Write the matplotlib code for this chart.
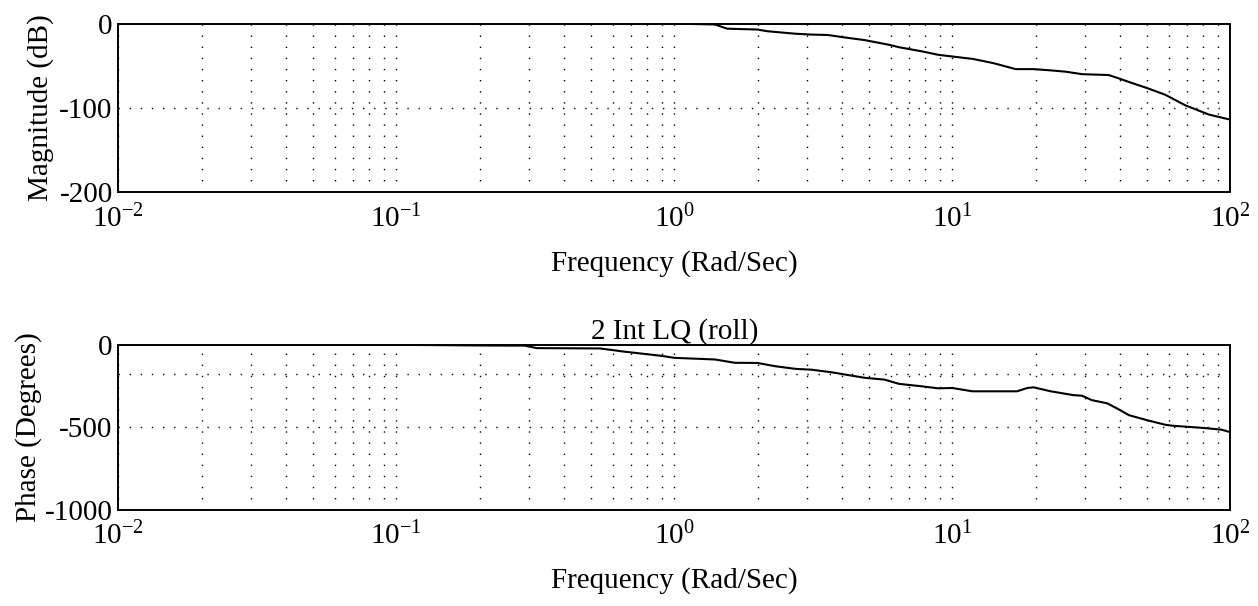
import math
import matplotlib
matplotlib.use("Agg")
import matplotlib.pyplot as plt
from matplotlib.ticker import LogLocator, FixedLocator, FuncFormatter

# ---- data ----
freq_mag = [0.01, 0.1, 1.0, 1.4, 1.55, 1.99, 2.16, 2.73, 3.12, 3.57, 4.02, 4.83,
            5.9, 6.43, 7.8, 8.9, 10.0, 11.9, 14.1, 16.9, 19.6, 22.6, 25.5, 29.3,
            36.5, 39.7, 44.3, 50.2, 58.4, 68.9, 83.8, 100.0]
mag_db = [0, 0, 0, -1, -6, -7, -9, -12, -13, -13.5, -16, -19.5,
          -25, -28, -33, -37, -39, -42, -47, -54, -54, -55.5, -57, -60,
          -61, -65, -70.5, -76.5, -84.5, -97, -108, -114]

freq_phase = [0.01, 0.1, 0.2, 0.29, 0.32, 0.54, 0.6, 0.65, 0.9, 1.0, 1.4, 1.65,
              1.99, 2.31, 2.73, 3.12, 3.69, 4.83, 5.7, 6.43, 7.8, 8.9, 10.0, 11.8,
              17.1, 18.6, 19.6, 22.6, 27.2, 29.3, 31.8, 36.1, 39.7, 43.2, 50.9,
              58.4, 62.0, 81.0, 93.0, 100.0]
phase_deg = [0, 0, -4, -5, -20, -22, -32, -40, -67, -79, -89, -109,
             -110, -130, -146, -151, -167, -200, -211, -237, -252, -264, -262, -282,
             -282, -262, -258, -282, -305, -309, -336, -355, -392, -427, -460,
             -485, -491, -505, -515, -530]

mag_yticks = [0, -100, -200]
phase_yticks = [0, -500, -1000]
mag_hlines = [-100]
phase_hlines = [-180, -500]
decades = [0.01, 0.1, 1, 10, 100]

xlabel = "Frequency (Rad/Sec)"
mag_label = "Magnitude (dB)"
phase_label = "Phase (Degrees)"
title2 = "2 Int LQ (roll)"

plt.rcParams['font.family'] = ['Liberation Serif', 'DejaVu Serif']
plt.rcParams['mathtext.fontset'] = 'custom'
plt.rcParams['mathtext.rm'] = 'Liberation Serif'
plt.rcParams['mathtext.it'] = 'Liberation Serif'
plt.rcParams['axes.unicode_minus'] = False

FS = 21
DOT = (0, (1, 7))

fig = plt.figure(figsize=(12.58, 6.06), dpi=100)
ax1 = fig.add_axes([0.094, 0.683, 0.884, 0.278])
ax2 = fig.add_axes([0.094, 0.159, 0.884, 0.272])


def dec_fmt(v, pos):
    e = int(round(math.log10(v)))
    return r"$\mathrm{10^{%s}}$" % ("-%d" % -e if e < 0 else "%d" % e)


def style(ax, yticks, hlines, ylim):
    ax.set_xscale('log')
    ax.set_xlim(0.01, 100)
    ax.set_ylim(*ylim)
    ax.xaxis.set_major_locator(FixedLocator(decades))
    ax.xaxis.set_major_formatter(FuncFormatter(dec_fmt))
    ax.xaxis.set_minor_locator(LogLocator(base=10, subs=range(2, 10)))
    ax.yaxis.set_major_locator(FixedLocator(yticks))
    ax.tick_params(which='both', length=0, labelsize=FS)
    ax.tick_params(axis='x', pad=9)
    ax.tick_params(axis='y', pad=4)
    ax.grid(True, which='both', axis='x', color='black', linestyle=DOT,
            linewidth=1.0)
    for h in hlines:
        ax.axhline(h, color='black', linestyle=DOT, linewidth=1.0)
    for s in ax.spines.values():
        s.set_linewidth(1.4)
    ax.set_xlabel(xlabel, fontsize=FS, labelpad=12)


style(ax1, mag_yticks, mag_hlines, (-200, 0))
ax1.plot(freq_mag, mag_db, color='black', linewidth=1.5)
ax1.set_ylabel(mag_label, fontsize=FS, labelpad=4)

style(ax2, phase_yticks, phase_hlines, (-1000, 0))
ax2.plot(freq_phase, phase_deg, color='black', linewidth=1.5)
ax2.set_ylabel(phase_label, fontsize=FS, labelpad=2)
ax2.set_title(title2, fontsize=FS, pad=2)

fig.savefig("out.png", dpi=100)
